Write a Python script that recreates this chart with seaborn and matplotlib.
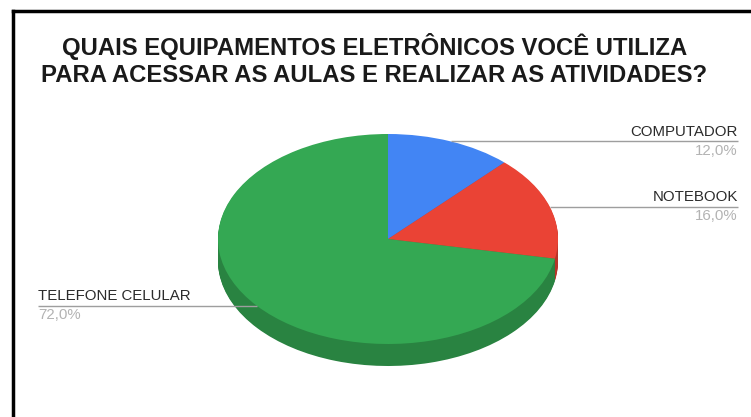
import numpy as np
import pandas as pd
import seaborn as sns
import matplotlib
matplotlib.use("Agg")
import matplotlib.pyplot as plt
from matplotlib.lines import Line2D

# Survey answers (share of respondents, %)
categories = ["COMPUTADOR", "NOTEBOOK", "TELEFONE CELULAR"]
shares = [12.0, 16.0, 72.0]
pct_labels = ["12,0%", "16,0%", "72,0%"]
slice_colors = ["#4285F4", "#EA4335", "#34A853"]
title_lines = [
    "QUAIS EQUIPAMENTOS ELETRÔNICOS VOCÊ UTILIZA",
    "PARA ACESSAR AS AULAS E REALIZAR AS ATIVIDADES?",
]

sns.set_theme(style="white")
plt.rcParams["font.family"] = ["Liberation Sans", "DejaVu Sans"]

df = pd.DataFrame({"categoria": categories, "pct": shares})
palette = sns.color_palette(slice_colors)
rim_palette = [tuple(c * 0.78 for c in p) for p in palette]

W, H = 751, 417
fig = plt.figure(figsize=(W / 100, H / 100), dpi=100)
fig.patch.set_facecolor("white")

# pie geometry in pixels: centre, horizontal / vertical radius, rim depth
cx, cy, rx, ry = 388, 239, 170, 105
depth_px = 22

ax = fig.add_axes([0, 0, 1, 1])

# side wall of the tilted disc: stacked darker copies shifted downward
depth = depth_px / ry
for off in np.linspace(depth, 0, 26)[:-1]:
    ax.pie(df["pct"], colors=rim_palette, startangle=90, counterclock=False,
           center=(0, -off), radius=1, wedgeprops=dict(linewidth=0))
# top face
ax.pie(df["pct"], colors=palette, startangle=90, counterclock=False,
       center=(0, 0), radius=1, wedgeprops=dict(linewidth=0))

ax.set_aspect("auto")
ax.set_xlim(-cx / rx, (W - cx) / rx)
ax.set_ylim((cy - H) / ry, cy / ry)
ax.axis("off")

# leader lines and labels
cum = np.cumsum(df["pct"].to_numpy()) - df["pct"].to_numpy() / 2
right_x = (738 - cx) / rx
left_x = (38 - cx) / rx
for name, pct_txt, mid in zip(df["categoria"], pct_labels, cum):
    theta = np.deg2rad(360 * mid / 100)
    px, py = np.sin(theta), np.cos(theta)
    if px >= 0:
        tx, ha = right_x, "right"
    else:
        tx, ha = left_x, "left"
    ax.plot([px, tx], [py, py], color="#9e9e9e", lw=1.0, solid_capstyle="butt")
    ax.text(tx, py + 2.5 / ry, name, ha=ha, va="bottom", fontsize=10.8,
            color="#2b2b2b")
    ax.text(tx, py - 2.5 / ry, pct_txt, ha=ha, va="top", fontsize=10.8,
            color="#b3b3b3")

# title
for i, line in enumerate(title_lines):
    fig.text(374.5 / W, 1 - (47 + 29 * i) / H, line, ha="center", va="center",
             fontsize=17.2, fontweight="bold", color="#1a1a1a")

# black frame on the top and left edges
fig.add_artist(Line2D([12.5 / W, 12.5 / W], [0, 1 - 11 / H],
                      transform=fig.transFigure, color="black", lw=2.5,
                      solid_capstyle="projecting"))
fig.add_artist(Line2D([12.5 / W, 1], [1 - 11 / H, 1 - 11 / H],
                      transform=fig.transFigure, color="black", lw=2.5,
                      solid_capstyle="projecting"))

fig.savefig("out.png", dpi=100)
